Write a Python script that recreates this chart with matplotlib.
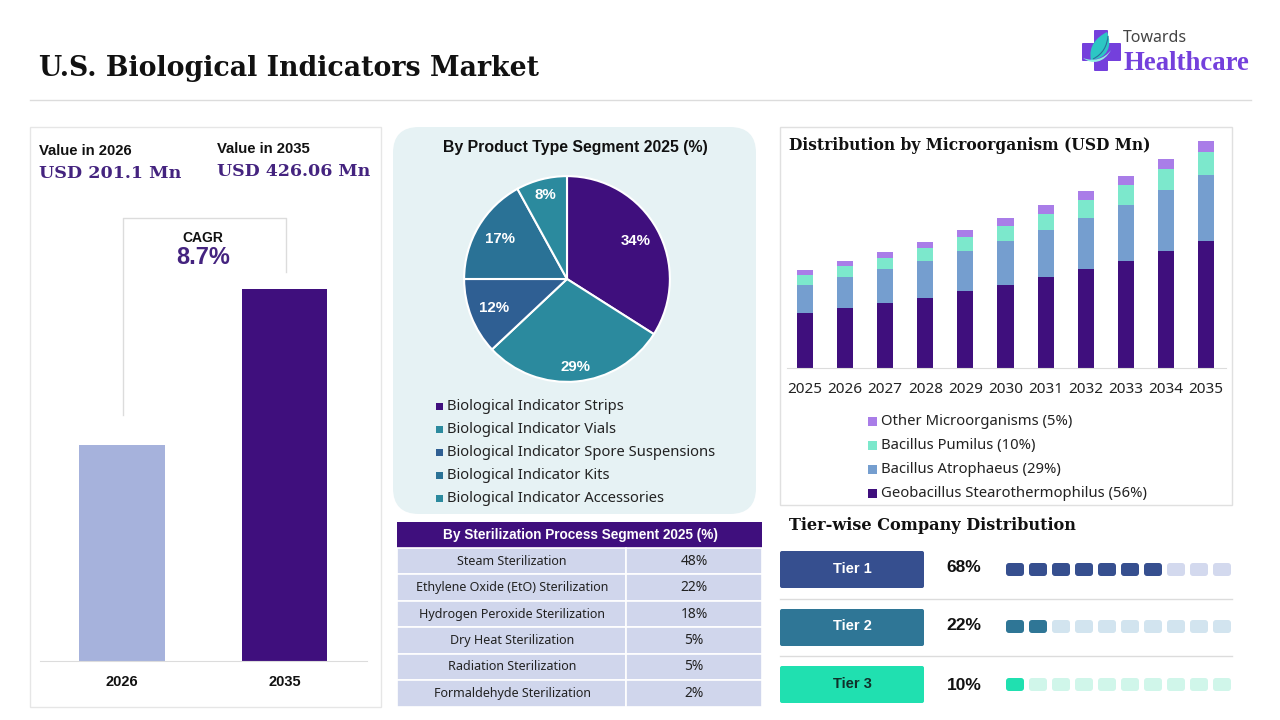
import matplotlib
matplotlib.use("Agg")
import numpy as np
import matplotlib.pyplot as plt
from matplotlib.patches import FancyBboxPatch, Rectangle, PathPatch
from matplotlib.path import Path

# colours
PURPLE = "#3f0f7d"
TITLE_PURPLE = "#44237f"
LOGO_PURPLE = "#7440dc"
GREY_LINE = "#dcdcdc"

# left panel
value_years = ["2026", "2035"]
value_bars = [247, 426.06]  # 2026 bar is drawn taller than scale in the picture
value_colors = ["#a6b2dc", PURPLE]

# pie
pie_labels = ["Biological Indicator Strips", "Biological Indicator Vials",
              "Biological Indicator Spore Suspensions", "Biological Indicator Kits",
              "Biological Indicator Accessories"]
pie_values = [34, 29, 12, 17, 8]
pie_colors = [PURPLE, "#2b8a9e", "#2f5f93", "#2a7296", "#2b8a9e"]
pie_label_dist = [0.76, 0.86, 0.76, 0.76, 0.84]

# table
process_names = ["Steam Sterilization", "Ethylene Oxide (EtO) Sterilization",
                 "Hydrogen Peroxide Sterilization", "Dry Heat Sterilization",
                 "Radiation Sterilization", "Formaldehyde Sterilization"]
process_shares = [48, 22, 18, 5, 5, 2]

# stacked bars, USD Mn
years = [2025, 2026, 2027, 2028, 2029, 2030, 2031, 2032, 2033, 2034, 2035]
geobacillus = [103, 113, 122, 132, 145, 156, 171, 186, 201, 220, 239]
atrophaeus = [53, 58, 64, 70, 75, 83, 88, 96, 105, 115, 124]
pumilus = [19, 21, 21, 24, 26, 28, 30, 34, 38, 39, 43]
other = [9, 9, 11, 11, 13, 15, 17, 17, 17, 19, 21]
stack_labels = ["Geobacillus Stearothermophilus (56%)", "Bacillus Atrophaeus (29%)",
                "Bacillus Pumilus (10%)", "Other Microorganisms (5%)"]
stack_colors = [PURPLE, "#759ecf", "#7ce8cc", "#a97de8"]

# tiers
tier_names = ["Tier 1", "Tier 2", "Tier 3"]
tier_shares = [68, 22, 10]
tier_filled = [7, 2, 1]
tier_colors = ["#364f8f", "#2f7696", "#20e0b0"]
tier_light = ["#d3d9ee", "#d2e4ef", "#d0f6ea"]
tier_text = ["white", "white", "#10302a"]

SERIF = "DejaVu Serif"
SANS = "Liberation Sans"
BODY = "Noto Sans"

fig = plt.figure(figsize=(12.8, 7.2), dpi=100, facecolor="white")


def px_axes(x0, y0, x1, y1):
    # axes placed by pixel box, y measured from the top
    return fig.add_axes([x0 / 1280, 1 - y1 / 720, (x1 - x0) / 1280, (y1 - y0) / 720])


bg = fig.add_axes([0, 0, 1, 1], zorder=0)
bg.set_xlim(0, 1280)
bg.set_ylim(720, 0)
bg.axis("off")


def put(x, y, s, size, family=SANS, weight="normal", color="black", ha="left"):
    bg.text(x, y, s, fontsize=size, family=family, weight=weight, color=color, ha=ha, va="center")


def box(x0, y0, x1, y1, fc="none", ec="none", lw=1.0, r=0, z=1):
    if r:
        p = FancyBboxPatch((x0 + r, y0 + r), x1 - x0 - 2 * r, y1 - y0 - 2 * r,
                           boxstyle="round,pad=%f,rounding_size=%f" % (r, r),
                           fc=fc, ec=ec, lw=lw, zorder=z)
    else:
        p = Rectangle((x0, y0), x1 - x0, y1 - y0, fc=fc, ec=ec, lw=lw, zorder=z)
    bg.add_patch(p)


# header
put(39, 68.5, "U.S. Biological Indicators Market", 19.3, SERIF, "bold", "#111111")
bg.plot([30, 1251], [99.5, 99.5], color=GREY_LINE, lw=1)

# logo
box(1094, 30, 1108, 71, fc=LOGO_PURPLE, r=1, z=2)
box(1082, 43, 1121, 61, fc=LOGO_PURPLE, r=1, z=2)
C4 = Path.CURVE4
leaf = Path([(1091, 60), (1088, 46), (1097, 37), (1107, 32), (1113, 46), (1107, 59), (1091, 60)],
            [Path.MOVETO, C4, C4, C4, C4, C4, C4])
bg.add_patch(PathPatch(leaf, fc="#2cc6c4", ec="none", zorder=3))
vein = Path([(1093, 59), (1103, 54), (1107, 46), (1108, 36)], [Path.MOVETO, C4, C4, C4])
bg.add_patch(PathPatch(vein, fc="none", ec="#2a6f9a", lw=0.8, zorder=4))
swoosh = Path([(1083, 58), (1092, 65), (1104, 63), (1111, 50), (1104, 59), (1094, 62), (1083, 58)],
              [Path.MOVETO, C4, C4, C4, C4, C4, C4])
bg.add_patch(PathPatch(swoosh, fc="#8ff0e2", ec="none", zorder=4))
put(1123, 38, "Towards", 11.5, "Noto Sans", color="#444444")
put(1123, 63, "Healthcare", 19.3, "Liberation Serif", "bold", LOGO_PURPLE)

# left panel
box(30, 127, 381, 707, ec="#e6e6e6", lw=1)
put(39, 151, "Value in 2026", 10.7, SANS, "bold", "#111111")
put(217, 149, "Value in 2035", 10.7, SANS, "bold", "#111111")
put(39, 173, "USD 201.1 Mn", 12.6, SERIF, "bold", TITLE_PURPLE)
put(217, 171, "USD 426.06 Mn", 12.5, SERIF, "bold", TITLE_PURPLE)
bg.plot([123, 123, 285.5, 285.5], [415, 218, 218, 272], color=GREY_LINE, lw=1)
put(203, 238, "CAGR", 10, SANS, "bold", "#111111", "center")
put(203, 258, "8.7%", 17, SANS, "bold", TITLE_PURPLE, "center")

ax1 = px_axes(40, 289, 367, 661)
ax1.patch.set_alpha(0)
ax1.bar([0, 1], value_bars, width=0.525, color=value_colors)
ax1.set_xlim(-0.505, 1.508)
ax1.set_ylim(0, 426.06)
ax1.set_xticks([0, 1], value_years, fontsize=10.5, family=SANS, weight="bold", color="#111111")
ax1.set_yticks([])
ax1.tick_params(axis="x", length=0, pad=10)
for s in ["top", "left", "right"]:
    ax1.spines[s].set_visible(False)
ax1.spines["bottom"].set_color(GREY_LINE)

# pie panel
box(393, 127, 756, 514, fc="#e6f2f4", r=26)
put(575, 147.5, "By Product Type Segment 2025 (%)", 11.4, SANS, "bold", "#111111", "center")
ax2 = px_axes(460, 172, 674, 386)
ax2.patch.set_alpha(0)
wedges, _ = ax2.pie(pie_values, colors=pie_colors, startangle=90, counterclock=False,
                    radius=1.0, wedgeprops={"edgecolor": "white", "linewidth": 1.5})
ax2.set_xlim(-1.04, 1.04)
ax2.set_ylim(-1.04, 1.04)
for w, v, d in zip(wedges, pie_values, pie_label_dist):
    ang = np.deg2rad((w.theta1 + w.theta2) / 2)
    ax2.text(d * np.cos(ang), d * np.sin(ang), "%d%%" % v, color="white", fontsize=10.8,
             family=SANS, weight="bold", ha="center", va="center")
for i, lab in enumerate(pie_labels):
    y = 406 + i * 23
    box(435.5, y - 3.5, 442.5, y + 3.5, fc=pie_colors[i], z=2)
    put(447, y + 0.5, lab, 10.65, BODY, color="#222222")

# table
box(397, 522, 762, 548, fc=PURPLE)
put(580, 534.5, "By Sterilization Process Segment 2025 (%)", 9.8, SANS, "bold", "white", "center")
row_h = (706.5 - 548) / len(process_names)
for i, name in enumerate(process_names):
    y0 = 548 + i * row_h
    box(397, y0, 626, y0 + row_h, fc="#d0d6ec", ec="white", lw=1.2)
    box(626, y0, 762, y0 + row_h, fc="#d0d6ec", ec="white", lw=1.2)
    put(512, y0 + row_h / 2, name, 9, BODY, color="#222222", ha="center")
    put(694, y0 + row_h / 2, "%d%%" % process_shares[i], 10, BODY, color="#222222", ha="center")

# stacked bars panel
box(780, 127, 1232, 505, ec="#e0e0e0", lw=1)
put(789, 145, "Distribution by Microorganism (USD Mn)", 11.2, SERIF, "bold", "#111111")
ax3 = px_axes(787, 130, 1226, 368)
ax3.patch.set_alpha(0)
bottom = [0] * len(years)
for vals, color, lab in zip([geobacillus, atrophaeus, pumilus, other], stack_colors, stack_labels):
    ax3.bar(years, vals, width=0.4, bottom=bottom, color=color, label=lab)
    bottom = [b + v for b, v in zip(bottom, vals)]
ax3.set_xlim(2025 - 0.45, 2035 + 0.5)
ax3.set_ylim(0, 447.4)
ax3.set_xticks(years, [str(y) for y in years], fontsize=11, family=BODY, color="#222222")
ax3.set_yticks([])
ax3.tick_params(axis="x", length=0, pad=10)
for s in ["top", "left", "right"]:
    ax3.spines[s].set_visible(False)
ax3.spines["bottom"].set_color(GREY_LINE)
for i, lab in enumerate(stack_labels):
    y = 493 - i * 24
    box(868, y - 4.5, 877, y + 4.5, fc=stack_colors[i], z=2)
    put(881, y + 0.5, lab, 10.7, BODY, color="#222222")

# tiers
put(789, 525, "Tier-wise Company Distribution", 11.6, SERIF, "bold", "#111111")
tier_tops = [551, 609, 666]
tier_ctr = [569.5, 626.5, 684.5]
pct_y = [567, 625, 686]
for i, name in enumerate(tier_names):
    box(780, tier_tops[i], 924, tier_tops[i] + 37, fc=tier_colors[i], r=2)
    put(852, tier_ctr[i] - 0.5, name, 10.5, SANS, "bold", tier_text[i], "center")
    put(964, pct_y[i], "%d%%" % tier_shares[i], 12.5, SANS, "bold", "#111111", "center")
    for k in range(10):
        x = 1006 + k * 23
        c = tier_colors[i] if k < tier_filled[i] else tier_light[i]
        box(x, tier_ctr[i] - 6.5, x + 18, tier_ctr[i] + 6.5, fc=c, r=3)
bg.plot([780, 1232], [598.5, 598.5], color=GREY_LINE, lw=1)
bg.plot([780, 1232], [656, 656], color=GREY_LINE, lw=1)

fig.savefig("out.png", dpi=100, facecolor="white")
